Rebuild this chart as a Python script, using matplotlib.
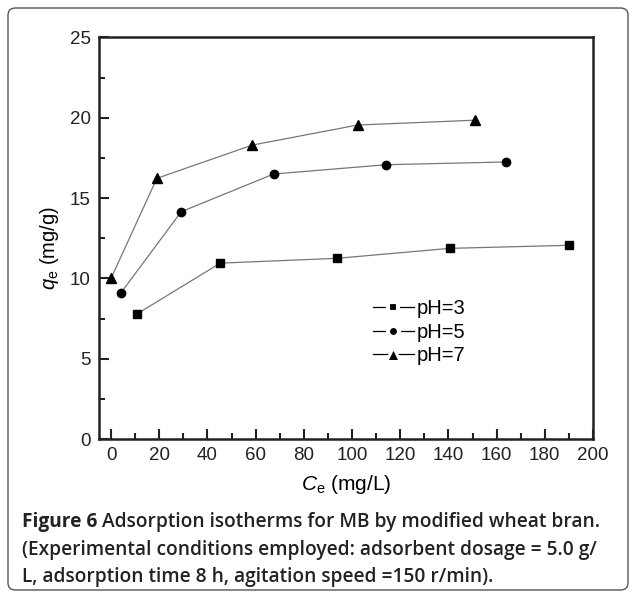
import matplotlib
matplotlib.use('Agg')
import matplotlib.pyplot as plt
from matplotlib.patches import FancyBboxPatch
from matplotlib.ticker import MultipleLocator

# data
ce_ph3 = [10.9, 45.3, 93.7, 140.5, 189.9]
qe_ph3 = [7.8, 10.95, 11.25, 11.87, 12.06]
ce_ph5 = [4.1, 29.1, 67.5, 114.3, 163.8]
qe_ph5 = [9.1, 14.15, 16.5, 17.08, 17.25]
ce_ph7 = [0.0, 19.0, 58.6, 102.3, 150.9]
qe_ph7 = [10.0, 16.23, 18.3, 19.55, 19.85]
series_labels = ['pH=3', 'pH=5', 'pH=7']

plt.rcParams['font.family'] = ['Liberation Sans', 'DejaVu Sans']
plt.rcParams['mathtext.fontset'] = 'custom'
plt.rcParams['mathtext.rm'] = 'Liberation Sans'
plt.rcParams['mathtext.it'] = 'Liberation Sans:italic'

fig = plt.figure(figsize=(6.36, 5.98), dpi=100)
W, H = 636, 598
ax = fig.add_axes([99 / W, 1 - 439 / H, (593 - 99) / W, (439 - 37.5) / H])

# outer rounded frame
frame = FancyBboxPatch((8 / W, 8 / H), 620 / W, 582 / H,
                       boxstyle='round,pad=0,rounding_size=0.012',
                       transform=fig.transFigure, fill=False,
                       edgecolor='#555555', linewidth=1.0)
fig.patches.append(frame)

line_kw = dict(color='#777777', linewidth=0.9, markerfacecolor='black',
               markeredgecolor='black')
ax.plot(ce_ph3, qe_ph3, marker='s', markersize=5.5, **line_kw)
ax.plot(ce_ph5, qe_ph5, marker='o', markersize=6, **line_kw)
ax.plot(ce_ph7, qe_ph7, marker='^', markersize=6.5, **line_kw)

# legend handles: black line, marker with white rim to leave a gap
leg_kw = dict(color='black', linewidth=0.9, markerfacecolor='black',
              markeredgecolor='white')
h1, = ax.plot([], [], marker='s', markersize=7.5, markeredgewidth=3, **leg_kw)
h2, = ax.plot([], [], marker='o', markersize=8, markeredgewidth=3, **leg_kw)
h3, = ax.plot([], [], marker='^', markersize=10, markeredgewidth=2.2, **leg_kw)
ax.legend([h1, h2, h3], series_labels, loc='upper left',
          bbox_to_anchor=(0.535, 0.373), frameon=False, fontsize=14.5,
          handlelength=2.0, handletextpad=0.15, labelspacing=0.22,
          borderpad=0)

ax.set_xlim(-5, 200)
ax.set_ylim(0, 25)
ax.xaxis.set_major_locator(MultipleLocator(20))
ax.xaxis.set_minor_locator(MultipleLocator(10))
ax.yaxis.set_major_locator(MultipleLocator(5))
ax.yaxis.set_minor_locator(MultipleLocator(2.5))
ax.tick_params(which='both', direction='in', top=False, right=False,
               width=1.5, labelsize=13.5, colors='#222222')
ax.tick_params(which='major', length=7, pad=6)
ax.tick_params(which='minor', length=4)
for s in ax.spines.values():
    s.set_linewidth(1.8)
    s.set_color('#222222')

ax.set_xlabel(r'$C_{\rm e}$ (mg/L)', fontsize=15, labelpad=6)
ax.set_ylabel(r'$q_{\rm e}$ (mg/g)', fontsize=14.5)
ax.yaxis.set_label_coords(-0.077, 0.476)

# caption
cap_font = ['Open Sans', 'DejaVu Sans']
cap_kw = dict(family=cap_font, fontsize=13.8, va='baseline', color='#222222')
t0 = fig.text(22 / W, 1 - 527 / H, 'Figure 6', fontweight='bold', **cap_kw)
fig.canvas.draw()
bb = t0.get_window_extent()
fig.text(bb.x1 / W + 5 / W, 1 - 527 / H,
         'Adsorption isotherms for MB by modified wheat bran.',
         fontweight='semibold', **cap_kw)
fig.text(22 / W, 1 - 555 / H,
         '(Experimental conditions employed: adsorbent dosage = 5.0 g/',
         fontweight='semibold', **cap_kw)
fig.text(22 / W, 1 - 582 / H,
         'L, adsorption time 8 h, agitation speed =150 r/min).',
         fontweight='semibold', **cap_kw)

fig.savefig('out.png', dpi=100)
